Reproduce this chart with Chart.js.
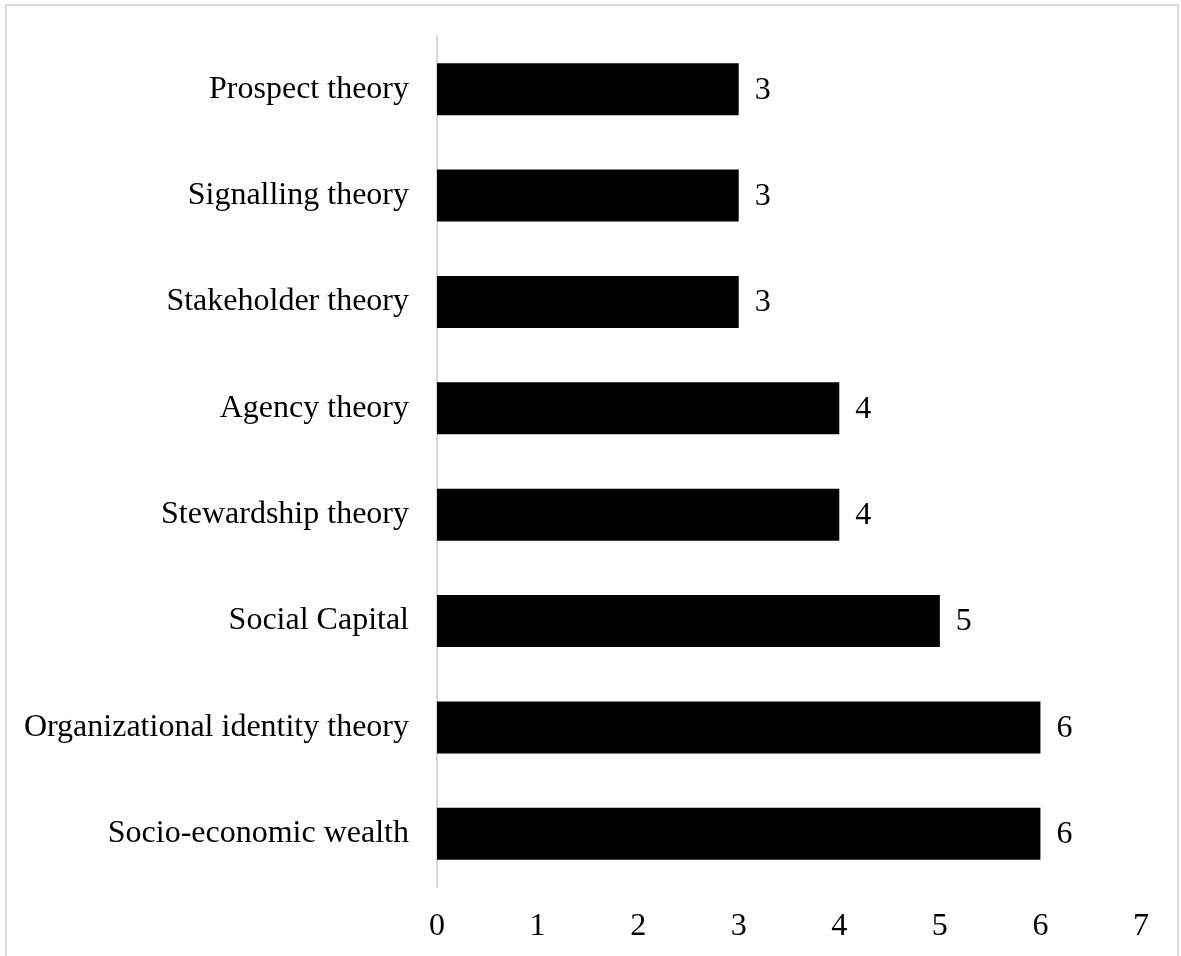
<!DOCTYPE html>
<html>
<head>
<meta charset="utf-8">
<script src="https://cdn.jsdelivr.net/npm/chart.js@4/dist/chart.umd.min.js"></script>
<style>
  body { margin: 0; background: #fff; }
  #wrap { position: relative; width: 1181px; height: 956px; }
  #frame { position: absolute; left: 5px; top: 4px; width: 1170px; height: 960px; border: 2px solid #d9d9d9; pointer-events: none; }
</style>
</head>
<body>
<div id="wrap">
  <canvas id="theories" width="1181" height="956"></canvas>
  <div id="frame"></div>
</div>
<script>
const labelsTheories = [
  "Prospect theory",
  "Signalling theory",
  "Stakeholder theory",
  "Agency theory",
  "Stewardship theory",
  "Social Capital",
  "Organizational identity theory",
  "Socio-economic wealth",
];
const countsTheories = [3, 3, 3, 4, 4, 5, 6, 6];
const xTicks = [0, 1, 2, 3, 4, 5, 6, 7];

const fontSerif = { family: "'Liberation Serif', 'Times New Roman', serif", size: 32 };

// draws the value just right of each bar
const valueLabels = {
  id: "valueLabels",
  afterDatasetsDraw(chart) {
    const ctx = chart.ctx;
    const meta = chart.getDatasetMeta(0);
    ctx.save();
    ctx.font = "32px " + fontSerif.family;
    ctx.fillStyle = "#000";
    ctx.textAlign = "left";
    ctx.textBaseline = "middle";
    meta.data.forEach((bar, i) => {
      ctx.fillText(String(countsTheories[i]), bar.x + 16, bar.y + 1);
    });
    ctx.restore();
  },
};

const ctxTheories = document.getElementById("theories").getContext("2d");
new Chart(ctxTheories, {
  type: "bar",
  data: {
    labels: labelsTheories,
    datasets: [
      {
        data: countsTheories,
        backgroundColor: "#000",
        categoryPercentage: 1,
        barPercentage: 0.49,
      },
    ],
  },
  options: {
    indexAxis: "y",
    responsive: false,
    animation: false,
    layout: { padding: { top: 36, right: 40, left: 0, bottom: 0 } },
    scales: {
      x: {
        min: 0,
        max: 7,
        afterBuildTicks: (scale) => {
          scale.ticks = xTicks.map((v) => ({ value: v }));
        },
        afterFit: (scale) => {
          scale.height = 69;
        },
        grid: { display: false, drawTicks: false },
        border: { display: false },
        ticks: { color: "#000", font: fontSerif, padding: 20, maxRotation: 0 },
      },
      y: {
        afterFit: (scale) => {
          scale.width = 437;
          scale.paddingTop = 0;
          scale.paddingBottom = 0;
        },
        grid: { display: false, drawTicks: false },
        border: { display: true, color: "#d9d9d9", width: 2 },
        ticks: { color: "#000", font: fontSerif, padding: 28 },
      },
    },
    plugins: {
      legend: { display: false },
      tooltip: { enabled: false },
    },
  },
  plugins: [valueLabels],
});
</script>
</body>
</html>
